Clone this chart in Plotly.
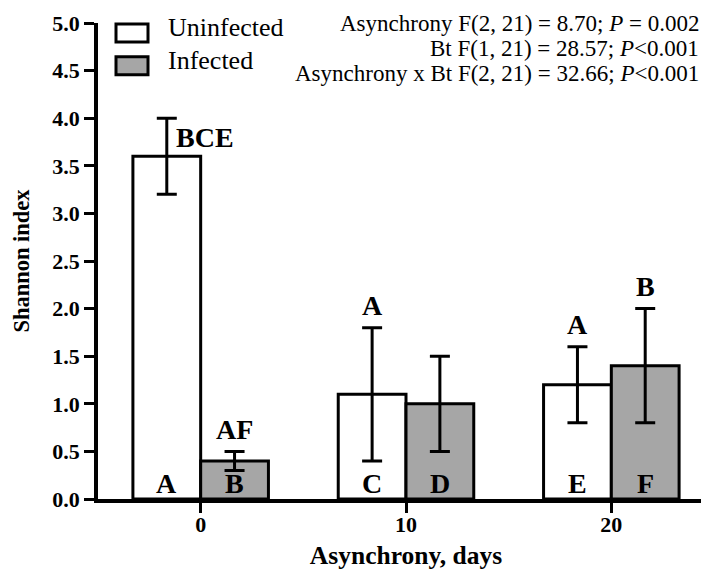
import plotly.graph_objects as go

# ---- data ----
asynchrony = [0, 10, 20]
uninfected_mean = [3.6, 1.1, 1.2]
uninfected_err = [0.4, 0.7, 0.4]
infected_mean = [0.4, 1.0, 1.4]
infected_err = [0.1, 0.5, 0.6]
top_letters_uninf = ["BCE", "A", "A"]
top_letters_inf = ["AF", "", "B"]
bottom_letters_uninf = ["A", "C", "E"]
bottom_letters_inf = ["B", "D", "F"]
y_ticks = [0.0, 0.5, 1.0, 1.5, 2.0, 2.5, 3.0, 3.5, 4.0, 4.5, 5.0]
stats_lines = [
    "Asynchrony F(2, 21) = 8.70; <i>P</i> = 0.002",
    "Bt F(1, 21) = 28.57; <i>P</i><0.001",
    "Asynchrony x Bt F(2, 21) = 32.66; <i>P</i><0.001",
]
legend_names = ["Uninfected", "Infected"]

# ---- style ----
FONT = "Liberation Serif, Times New Roman, serif"
GRAY = "#a6a6a6"
BAR_W = 3.3
W, H = 709, 572
ML, MR, MT, MB = 90, 3, 12, 81
PW, PH = W - ML - MR, H - MT - MB


def px_x(p):
    return (p - ML) / PW


def px_y(p):
    return (H - MB - p) / PH


fig = go.Figure()
fig.add_trace(go.Bar(
    x=asynchrony, y=uninfected_mean, width=BAR_W, offset=-BAR_W,
    marker=dict(color="white", line=dict(color="black", width=3)),
    error_y=dict(type="data", array=uninfected_err, color="black", thickness=3, width=10),
    name=legend_names[0], showlegend=False,
))
fig.add_trace(go.Bar(
    x=asynchrony, y=infected_mean, width=BAR_W, offset=0,
    marker=dict(color=GRAY, line=dict(color="black", width=3)),
    error_y=dict(type="data", array=infected_err, color="black", thickness=3, width=10),
    name=legend_names[1], showlegend=False,
))

annotations = []
letter_font = dict(family=FONT, size=28, color="black", weight="bold")
for i, xv in enumerate(asynchrony):
    xu = xv - BAR_W / 2
    xi = xv + BAR_W / 2
    top_u = uninfected_mean[i] + uninfected_err[i]
    top_i = infected_mean[i] + infected_err[i]
    if i == 0:
        annotations.append(dict(x=xu, y=top_u, text=top_letters_uninf[i], showarrow=False,
                                xanchor="left", yanchor="middle", xshift=7, yshift=-19,
                                font=letter_font))
    elif top_letters_uninf[i]:
        annotations.append(dict(x=xu, y=top_u, text=top_letters_uninf[i], showarrow=False,
                                xanchor="center", yanchor="middle", yshift=22, font=letter_font))
    if top_letters_inf[i]:
        annotations.append(dict(x=xi, y=top_i, text=top_letters_inf[i], showarrow=False,
                                xanchor="center", yanchor="middle", yshift=22, font=letter_font))
    annotations.append(dict(x=xu, y=0, text=bottom_letters_uninf[i], showarrow=False,
                            xanchor="center", yanchor="middle", yshift=16, font=letter_font))
    annotations.append(dict(x=xi, y=0, text=bottom_letters_inf[i], showarrow=False,
                            xanchor="center", yanchor="middle", yshift=16, font=letter_font))

stats_y = [12.5, 37.5, 62.5]
for line, yy in zip(stats_lines, stats_y):
    annotations.append(dict(xref="paper", yref="paper", x=px_x(693), y=px_y(yy), text=line,
                            showarrow=False, xanchor="right", yanchor="middle",
                            font=dict(family=FONT, size=23, color="black")))

# legend drawn manually
shapes = []
legend_boxes = [(13, 31, "white"), (46, 64, GRAY)]
for (t, b, col), name in zip(legend_boxes, legend_names):
    shapes.append(dict(type="rect", xref="paper", yref="paper",
                       x0=px_x(108), x1=px_x(140), y0=px_y(b), y1=px_y(t),
                       fillcolor=col, line=dict(color="black", width=3)))
    annotations.append(dict(xref="paper", yref="paper", x=px_x(158), y=px_y((t + b) / 2 - 5),
                            text=name, showarrow=False, xanchor="left", yanchor="middle",
                            font=dict(family=FONT, size=26, color="black")))

fig.update_layout(
    width=W, height=H,
    margin=dict(l=ML, r=MR, t=MT, b=MB),
    plot_bgcolor="white", paper_bgcolor="white",
    barmode="overlay",
    showlegend=False,
    annotations=annotations,
    shapes=shapes,
    xaxis=dict(
        range=[-5, 25], tickvals=asynchrony, ticktext=[str(v) for v in asynchrony],
        showline=True, linecolor="black", linewidth=3.5,
        ticks="outside", ticklen=10, tickwidth=3, tickcolor="black",
        showgrid=False, zeroline=False, ticklabeloverflow="allow",
        ticklabelstandoff=-7,
        tickfont=dict(family=FONT, size=22, color="black", weight="bold"),
        title=dict(text="Asynchrony, days", standoff=11,
                   font=dict(family=FONT, size=25.5, color="black", weight="bold")),
    ),
    yaxis=dict(
        range=[0, 5], tickvals=y_ticks, tickformat=".1f",
        showline=True, linecolor="black", linewidth=3.5,
        ticks="outside", ticklen=10, tickwidth=3, tickcolor="black",
        showgrid=False, zeroline=False, ticklabeloverflow="allow",
        tickfont=dict(family=FONT, size=22, color="black", weight="bold"),
        title=dict(text="Shannon index", standoff=17,
                   font=dict(family=FONT, size=22.5, color="black", weight="bold")),
    ),
)

fig.write_html("out.html")
